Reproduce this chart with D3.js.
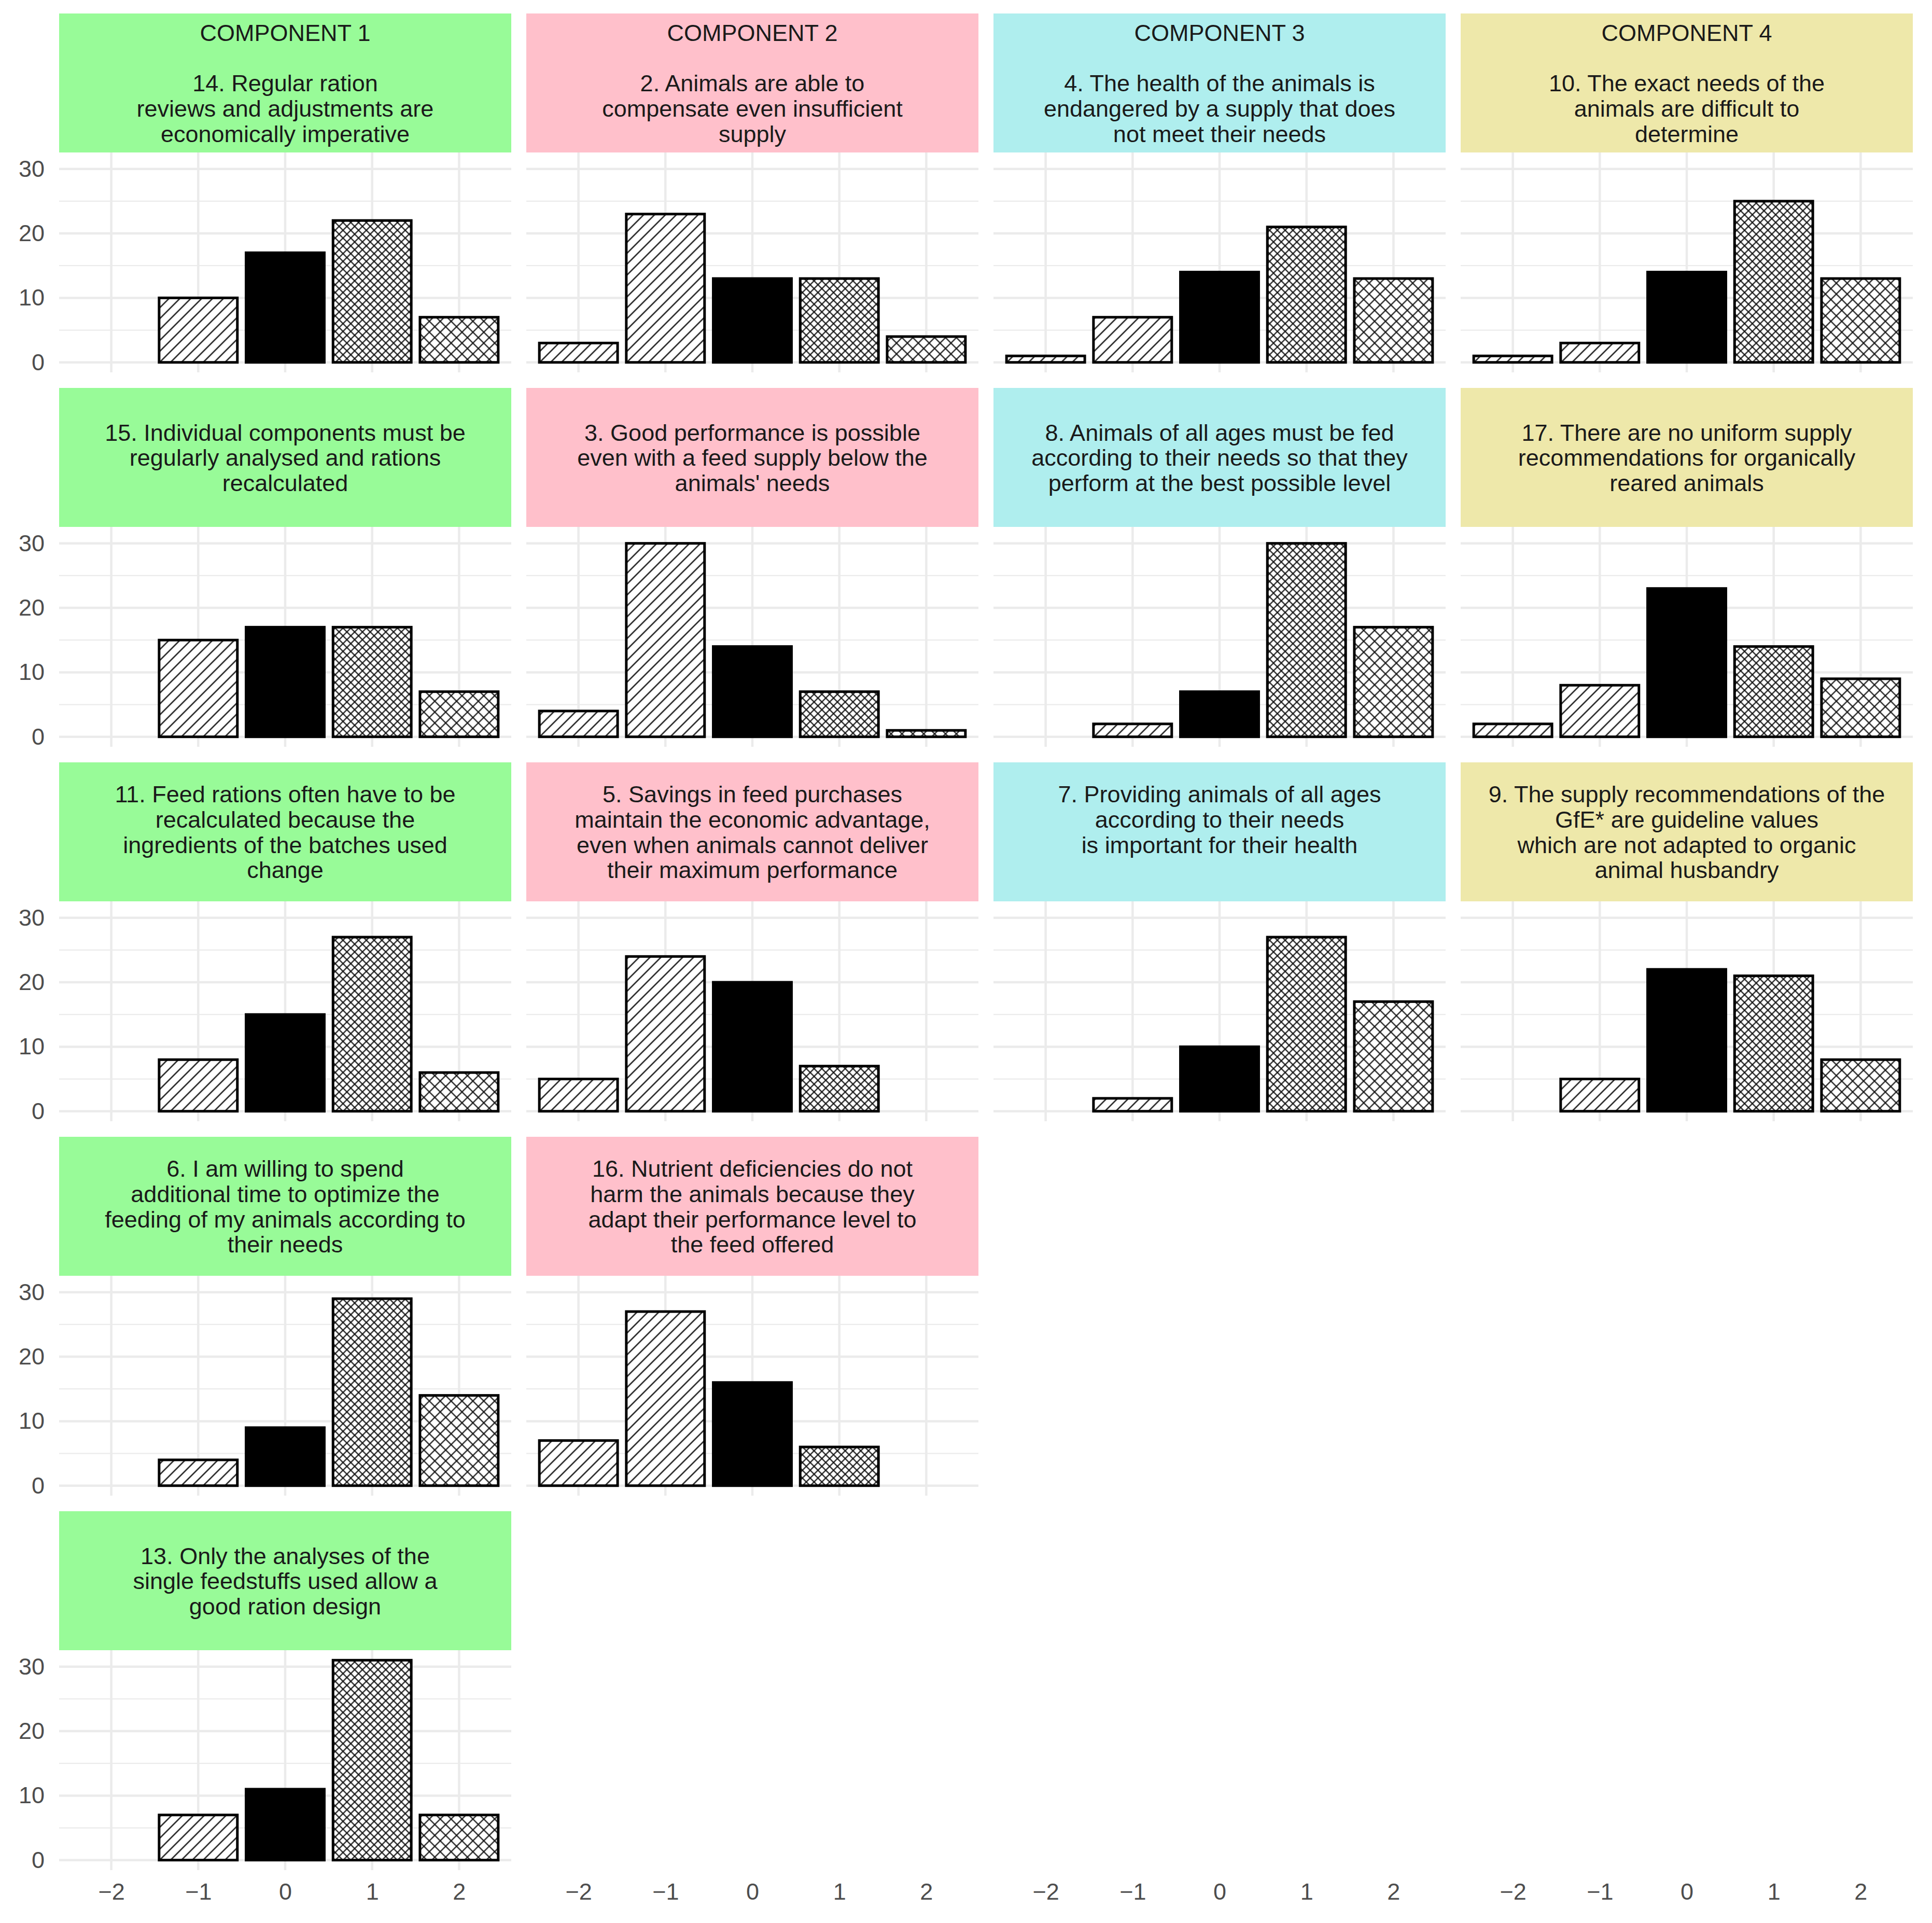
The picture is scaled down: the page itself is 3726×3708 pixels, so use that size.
<!DOCTYPE html>
<html lang="en">
<head>
  <meta charset="utf-8">
  <title>Faceted bar charts by component</title>
  <script src="https://d3js.org/d3.v7.js"></script>
  <style>
    body { margin: 0; background: #fff; }
    text { font-family: "Liberation Sans", Arial, sans-serif; }
  </style>
</head>
<body>
  <div id="my_dataviz"></div>

  <script>
    // Response categories on the x axis and their tick labels
    var scores = ["-2", "-1", "0", "1", "2"];
    var tickLabels = ["\u22122", "\u22121", "0", "1", "2"];
    var yTicks = [0, 10, 20, 30];
    var yMinorTicks = [5, 15, 25];

    // Components (facet columns) and strip colours
    var components = ["COMPONENT 1", "COMPONENT 2", "COMPONENT 3", "COMPONENT 4"];
    var stripColors = ["#98FB98", "#FFC0CB", "#AFEEEE", "#EEE8AA"];

    // Statements per component, top to bottom
    var comp1Items = [
      "14. Regular ration\nreviews and adjustments are\neconomically imperative",
      "15. Individual components must be\nregularly analysed and rations\nrecalculated",
      "11. Feed rations often have to be\nrecalculated because the\ningredients of the batches used\nchange",
      "6. I am willing to spend\nadditional time to optimize the\nfeeding of my animals according to\ntheir needs",
      "13. Only the analyses of the\nsingle feedstuffs used allow a\ngood ration design"
    ];
    var comp2Items = [
      "2. Animals are able to\ncompensate even insufficient\nsupply",
      "3. Good performance is possible\neven with a feed supply below the\nanimals' needs",
      "5. Savings in feed purchases\nmaintain the economic advantage,\neven when animals cannot deliver\ntheir maximum performance",
      "16. Nutrient deficiencies do not\nharm the animals because they\nadapt their performance level to\nthe feed offered"
    ];
    var comp3Items = [
      "4. The health of the animals is\nendangered by a supply that does\nnot meet their needs",
      "8. Animals of all ages must be fed\naccording to their needs so that they\nperform at the best possible level",
      "7. Providing animals of all ages\naccording to their needs\nis important for their health\n"
    ];
    var comp4Items = [
      "10. The exact needs of the\nanimals are difficult to\ndetermine",
      "17. There are no uniform supply\nrecommendations for organically\nreared animals",
      "9. The supply recommendations of the\nGfE* are guideline values\nwhich are not adapted to organic\nanimal husbandry"
    ];

    // Counts of answers for -2, -1, 0, 1, 2
    var comp1Counts = [
      [0, 10, 17, 22, 7],
      [0, 15, 17, 17, 7],
      [0, 8, 15, 27, 6],
      [0, 4, 9, 29, 14],
      [0, 7, 11, 31, 7]
    ];
    var comp2Counts = [
      [3, 23, 13, 13, 4],
      [4, 30, 14, 7, 1],
      [5, 24, 20, 7, 0],
      [7, 27, 16, 6, 0]
    ];
    var comp3Counts = [
      [1, 7, 14, 21, 13],
      [0, 2, 7, 30, 17],
      [0, 2, 10, 27, 17]
    ];
    var comp4Counts = [
      [1, 3, 14, 25, 13],
      [2, 8, 23, 14, 9],
      [0, 5, 22, 21, 8]
    ];

    var allItems = [comp1Items, comp2Items, comp3Items, comp4Items];
    var allCounts = [comp1Counts, comp2Counts, comp3Counts, comp4Counts];

    // Layout
    var W = 3726, H = 3708;
    var left0 = 114, colStep = 901, panelW = 872;
    var top0 = 26, rowStep = 722, stripH = 268, panelH = 424;
    var fontSize = 45, lineH = 48.7;
    var nRows = 5;
    var axisY = top0 + (nRows - 1) * rowStep + stripH + panelH;

    var svg = d3.select("#my_dataviz")
      .append("svg")
      .attr("width", W)
      .attr("height", H);

    // Fill patterns
    var defs = svg.append("defs");
    function stripePattern(id, period) {
      var s = period / Math.SQRT2;
      var p = defs.append("pattern")
        .attr("id", id)
        .attr("patternUnits", "userSpaceOnUse")
        .attr("width", s).attr("height", s)
        .attr("patternTransform", "rotate(45)");
      p.append("rect").attr("width", s).attr("height", s).attr("fill", "#fff");
      p.append("line").attr("x1", s / 2).attr("x2", s / 2).attr("y1", 0).attr("y2", s)
        .attr("stroke", "#111").attr("stroke-width", 2.4);
    }
    function crossPattern(id, period) {
      var s = period / Math.SQRT2;
      var p = defs.append("pattern")
        .attr("id", id)
        .attr("patternUnits", "userSpaceOnUse")
        .attr("width", s).attr("height", s)
        .attr("patternTransform", "rotate(45)");
      p.append("rect").attr("width", s).attr("height", s).attr("fill", "#fff");
      p.append("line").attr("x1", s / 2).attr("x2", s / 2).attr("y1", 0).attr("y2", s)
        .attr("stroke", "#111").attr("stroke-width", 2.2);
      p.append("line").attr("y1", s / 2).attr("y2", s / 2).attr("x1", 0).attr("x2", s)
        .attr("stroke", "#111").attr("stroke-width", 2.2);
    }
    stripePattern("stripe", 21);
    crossPattern("crossFine", 15);
    crossPattern("crossWide", 21);
    var fills = ["url(#stripe)", "url(#stripe)", "#000", "url(#crossFine)", "url(#crossWide)"];

    // Scales shared by every panel (positions relative to the panel)
    var x = d3.scalePoint()
      .domain(scores)
      .range([0, panelW])
      .padding(0.6);
    var barW = x.step() * 0.9;

    var yMax = 31;
    var y = d3.scaleLinear()
      .domain([-0.05 * yMax, yMax * 1.05])
      .range([panelH, 0]);

    allItems.forEach(function(items, c) {
      items.forEach(function(label, r) {
        var px = left0 + c * colStep;
        var py = top0 + r * rowStep;

        // strip
        var strip = svg.append("g").attr("transform", "translate(" + px + "," + py + ")");
        strip.append("rect")
          .attr("width", panelW).attr("height", stripH)
          .attr("fill", stripColors[c]);
        var text = (r === 0 ? components[c] + "\n\n" : "") + label;
        var lines = text.split("\n");
        var cy = stripH / 2;
        strip.append("text")
          .attr("text-anchor", "middle")
          .attr("font-size", fontSize)
          .attr("fill", "#1A1A1A")
          .selectAll("tspan")
          .data(lines)
          .join("tspan")
            .attr("x", panelW / 2)
            .attr("y", function(d, i) { return cy + (i - (lines.length - 1) / 2) * lineH + 0.36 * fontSize; })
            .text(function(d) { return d; });

        // panel
        var g = svg.append("g").attr("transform", "translate(" + px + "," + (py + stripH) + ")");

        g.selectAll(".minor")
          .data(yMinorTicks)
          .join("line")
            .attr("x1", 0).attr("x2", panelW)
            .attr("y1", function(d) { return y(d); })
            .attr("y2", function(d) { return y(d); })
            .attr("stroke", "#EBEBEB").attr("stroke-width", 2.3);
        g.selectAll(".majorY")
          .data(yTicks)
          .join("line")
            .attr("x1", 0).attr("x2", panelW)
            .attr("y1", function(d) { return y(d); })
            .attr("y2", function(d) { return y(d); })
            .attr("stroke", "#EBEBEB").attr("stroke-width", 4.5);
        g.selectAll(".majorX")
          .data(scores)
          .join("line")
            .attr("x1", function(d) { return x(d); })
            .attr("x2", function(d) { return x(d); })
            .attr("y1", 0).attr("y2", panelH)
            .attr("stroke", "#EBEBEB").attr("stroke-width", 4.5);

        var counts = allCounts[c][r];
        var bars = scores.map(function(s, i) { return {score: s, n: counts[i], fill: fills[i]}; })
          .filter(function(d) { return d.n > 0; });

        g.selectAll("rect.bar")
          .data(bars)
          .join("rect")
            .attr("class", "bar")
            .attr("x", function(d) { return x(d.score) - barW / 2; })
            .attr("y", function(d) { return y(d.n); })
            .attr("width", barW)
            .attr("height", function(d) { return y(0) - y(d.n); })
            .attr("fill", function(d) { return d.fill; })
            .attr("stroke", "#000")
            .attr("stroke-width", 5);

        // y axis on the first column only
        if (c === 0) {
          var ya = g.append("g")
            .call(d3.axisLeft(y).tickValues(yTicks).tickSize(0).tickPadding(28));
          ya.select(".domain").remove();
          ya.selectAll("text")
            .attr("font-size", fontSize)
            .attr("fill", "#4D4D4D")
            .style("font-family", "'Liberation Sans', Arial, sans-serif");
        }
      });

      // x axis at the very bottom of every column
      var xa = svg.append("g")
        .attr("transform", "translate(" + (left0 + c * colStep) + "," + axisY + ")")
        .call(d3.axisBottom(x).tickSize(0).tickPadding(25)
          .tickFormat(function(d, i) { return tickLabels[i]; }));
      xa.select(".domain").remove();
      xa.selectAll("text")
        .attr("font-size", fontSize)
        .attr("fill", "#4D4D4D")
        .style("font-family", "'Liberation Sans', Arial, sans-serif");
    });
  </script>
</body>
</html>
